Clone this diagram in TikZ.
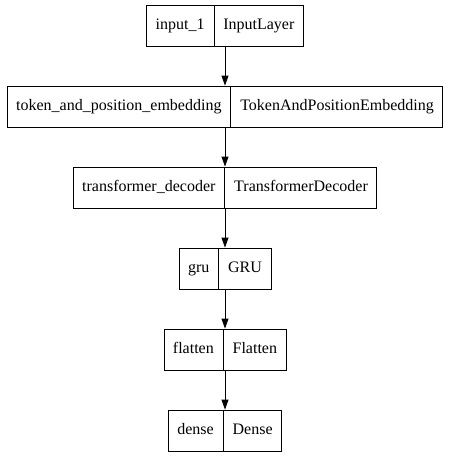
\documentclass[tikz,border=0pt]{standalone}
\usepackage{fontspec}
\setmainfont{Liberation Serif}
\usetikzlibrary{arrows.meta,shapes.multipart}

\begin{document}
\begin{tikzpicture}[x=1pt,y=1pt,>={Triangle[length=10pt,width=7pt]},font=\fontsize{16}{19}\selectfont]
\tikzstyle{layer}=[draw,rectangle split,rectangle split horizontal,rectangle split parts=2,inner xsep=9pt,inner ysep=11pt,line width=0.8pt]
\useasboundingbox (0,0) rectangle (450,-456);
\foreach \i/\n/\t in {0/{input\_1}/{InputLayer},1/{token\_and\_position\_embedding}/{TokenAndPositionEmbedding},2/{transformer\_decoder}/{TransformerDecoder},3/{gru}/{GRU},4/{flatten}/{Flatten},5/{dense}/{Dense}} \node[layer] (l\i) at (225,-25.5-\i*81) {\strut\n\nodepart{two}\strut\t};
\foreach \i/\j in {0/1,1/2,2/3,3/4,4/5} \draw[->,line width=0.8pt] (l\i) -- (l\j);
\end{tikzpicture}
\end{document}
